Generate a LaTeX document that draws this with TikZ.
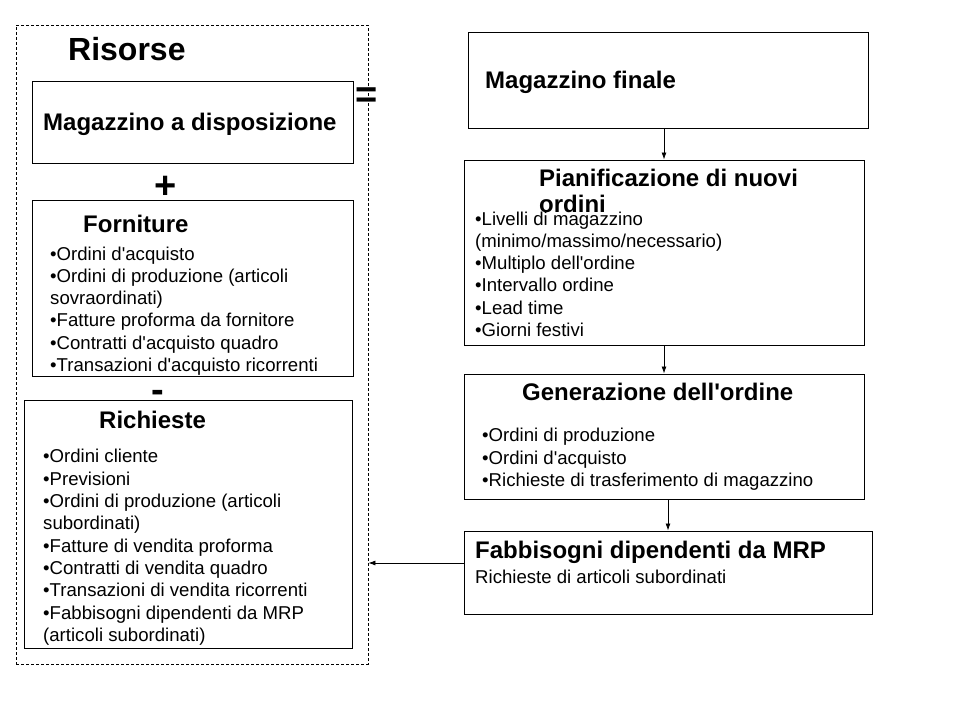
\documentclass[tikz,border=0pt]{standalone}
\usepackage{fontspec}
\setmainfont{Liberation Sans}
\usetikzlibrary{fit,arrows.meta}
\newcommand\ap{\textquotesingle}
\begin{document}
\begin{tikzpicture}[x=1pt,y=-1pt,
 box/.style={draw,line width=1pt,inner sep=0pt},
 dashbox/.style={draw,line width=0.8pt,dash pattern=on 3pt off 2pt,inner sep=0pt},
 ttl/.style={anchor=base west,inner sep=0pt,font=\bfseries\fontsize{24}{26}\selectfont},
 itm/.style={anchor=base west,inner sep=0pt,font=\fontsize{18.6}{22}\selectfont},
 sym/.style={anchor=base,inner sep=0pt,font=\bfseries\fontsize{38}{40}\selectfont},
 arr/.style={-{Latex[length=7pt,width=5pt]},line width=0.8pt}]
\fill[white] (0,0) rectangle (960,720);
\useasboundingbox (0,0) rectangle (960,720);
% left side
\node[dashbox,fit={(16,25) (368,664)}] (ris) {};
\node[anchor=base west,inner sep=0pt,font=\bfseries\fontsize{32}{34}\selectfont] (rt) at (68,60) {Risorse};
\node[box,fit={(32,81) (353,163)}] (mad) {};
\node[ttl] (madt) at (43,130) {Magazzino a disposizione};
\node[sym] (plus) at (166,198) {+};
\node[box,fit={(32,200) (353,376)}] (forn) {};
\node[ttl] (fornt) at (83,232) {Forniture};
\foreach \t [count=\i] in {•Ordini d\ap acquisto,•Ordini di produzione (articoli,sovraordinati),•Fatture proforma da fornitore,•Contratti d\ap acquisto quadro,•Transazioni d\ap acquisto ricorrenti}
  \node[itm] (f\i) at (50,{260+22.3*(\i-1)}) {\t};
\node[sym] (minus) at (158,402) {-};
\node[box,fit={(24,400) (352,648)}] (rich) {};
\node[ttl] (richt) at (99,428) {Richieste};
\foreach \t [count=\i] in {•Ordini cliente,•Previsioni,•Ordini di produzione (articoli,subordinati),•Fatture di vendita proforma,•Contratti di vendita quadro,•Transazioni di vendita ricorrenti,•Fabbisogni dipendenti da MRP,(articoli subordinati)}
  \node[itm] (r\i) at (43,{462.7+22.35*(\i-1)}) {\t};
\node[sym] (eq) at (367,107) {=};
% right side
\node[box,fit={(468,32) (868,128)}] (mf) {};
\node[ttl] (mft) at (485,88) {Magazzino finale};
\node[box,fit={(464,160) (864,345)}] (pian) {};
\node[ttl] (piant1) at (539,186) {Pianificazione di nuovi};
\foreach \t [count=\i] in {•Livelli di magazzino,(minimo/massimo/necessario),•Multiplo dell\ap ordine,•Intervallo ordine,•Lead time,•Giorni festivi}
  \node[itm] (p\i) at (475,{225+22.3*(\i-1)}) {\t};
\node[ttl] (piant2) at (539,212) {ordini};
\node[box,fit={(464,374) (864,499)}] (gen) {};
\node[ttl] (gent) at (522,400) {Generazione dell\ap ordine};
\foreach \t [count=\i] in {•Ordini di produzione,•Ordini d\ap acquisto,•Richieste di trasferimento di magazzino}
  \node[itm] (g\i) at (482,{441.7+22.4*(\i-1)}) {\t};
\node[box,fit={(464,531) (872,614)}] (fab) {};
\node[ttl] (fabt) at (475,558) {Fabbisogni dipendenti da MRP};
\node[itm] (fabs) at (475,583) {Richieste di articoli subordinati};
% connectors
\draw[arr] (mf.south -| pian.north) -- (pian.north);
\draw[arr] (pian.south) -- (gen.north);
\draw[arr] (gen.south -| fab.north) -- (fab.north);
\coordinate (fabout) at ([yshift=9.5pt]fab.west);
\draw[arr] (fabout) -- (fabout -| ris.east);
\end{tikzpicture}
\end{document}
